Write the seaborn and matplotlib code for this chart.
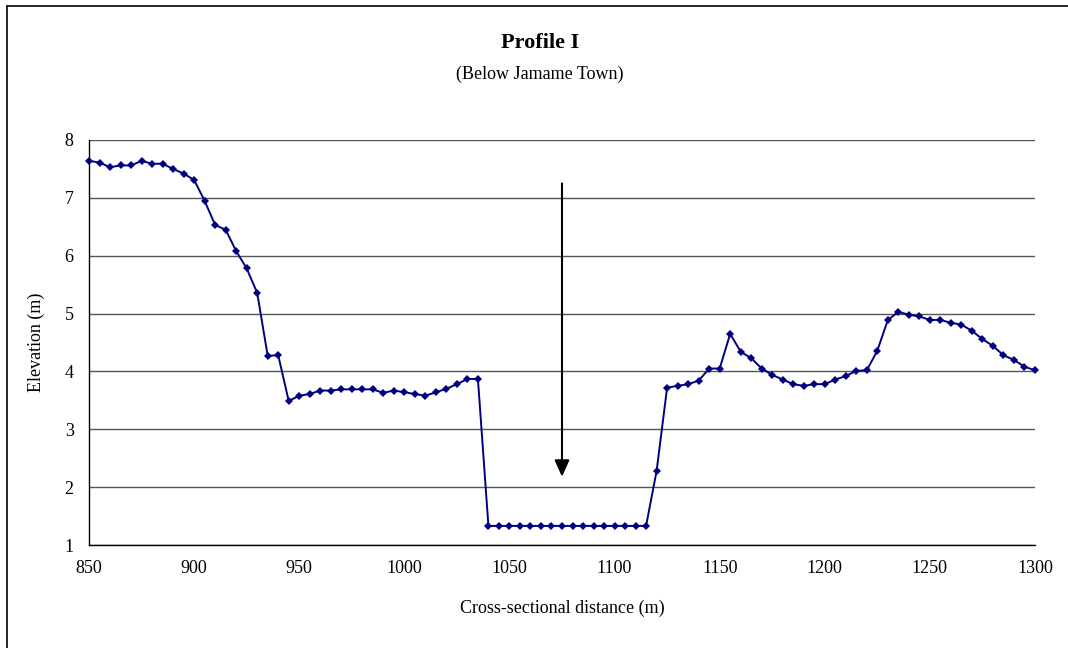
import matplotlib
matplotlib.use("Agg")
import matplotlib.pyplot as plt
import seaborn as sns
import pandas as pd

# Cross-section data
distance = [850, 855, 860, 865, 870, 875, 880, 885, 890, 895,
            900, 905, 910, 915, 920, 925, 930, 935, 940, 945,
            950, 955, 960, 965, 970, 975, 980, 985, 990, 995,
            1000, 1005, 1010, 1015, 1020, 1025, 1030, 1035, 1040, 1045,
            1050, 1055, 1060, 1065, 1070, 1075, 1080, 1085, 1090, 1095,
            1100, 1105, 1110, 1115, 1120, 1125, 1130, 1135, 1140, 1145,
            1150, 1155, 1160, 1165, 1170, 1175, 1180, 1185, 1190, 1195,
            1200, 1205, 1210, 1215, 1220, 1225, 1230, 1235, 1240, 1245,
            1250, 1255, 1260, 1265, 1270, 1275, 1280, 1285, 1290, 1295,
            1300]
elevation = [7.64, 7.61, 7.53, 7.56, 7.56, 7.64, 7.59, 7.59, 7.50, 7.42,
             7.31, 6.95, 6.53, 6.45, 6.08, 5.78, 5.36, 4.27, 4.28, 3.49,
             3.58, 3.61, 3.67, 3.67, 3.69, 3.69, 3.69, 3.69, 3.63, 3.67,
             3.64, 3.61, 3.58, 3.64, 3.70, 3.78, 3.87, 3.87, 1.33, 1.33,
             1.33, 1.33, 1.33, 1.33, 1.33, 1.33, 1.33, 1.33, 1.33, 1.33,
             1.33, 1.33, 1.33, 1.33, 2.28, 3.72, 3.75, 3.78, 3.84, 4.05,
             4.05, 4.65, 4.34, 4.23, 4.05, 3.94, 3.86, 3.78, 3.75, 3.78,
             3.78, 3.86, 3.92, 4.01, 4.02, 4.36, 4.89, 5.03, 4.98, 4.95,
             4.89, 4.89, 4.84, 4.81, 4.70, 4.56, 4.44, 4.28, 4.20, 4.08,
             4.02]

# Arrow marking the channel
arrow_x = 1075
arrow_top = 7.25
arrow_tip = 2.18

x_ticks = [850, 900, 950, 1000, 1050, 1100, 1150, 1200, 1250, 1300]
y_ticks = [1, 2, 3, 4, 5, 6, 7, 8]

df = pd.DataFrame({"distance": distance, "elevation": elevation})

sns.set_style("white")
plt.rcParams["font.family"] = ["Liberation Serif", "DejaVu Serif"]
plt.rcParams["text.color"] = "black"
plt.rcParams["axes.labelcolor"] = "black"
plt.rcParams["xtick.color"] = "black"
plt.rcParams["ytick.color"] = "black"

fig = plt.figure(figsize=(10.68, 6.48), dpi=100)
ax = fig.add_axes([89 / 1068, 1 - 545 / 648, (1035 - 89) / 1068, (545 - 140) / 648])

sns.lineplot(data=df, x="distance", y="elevation", ax=ax, color="#000080",
             linewidth=1.4, marker="D", markersize=4.5, markeredgewidth=0,
             zorder=3, clip_on=False)

ax.annotate("", xy=(arrow_x, arrow_tip), xytext=(arrow_x, arrow_top),
            arrowprops=dict(arrowstyle="-|>,head_width=0.45,head_length=1.0",
                            color="black", lw=1.5, shrinkA=0, shrinkB=0),
            zorder=4)

ax.set_xlim(850, 1300)
ax.set_ylim(1, 8)
ax.set_xticks(x_ticks)
ax.set_yticks(y_ticks)
ax.yaxis.grid(True, color="#555555", linewidth=1.0)
ax.xaxis.grid(False)
ax.set_axisbelow(True)

for side in ["top", "right"]:
    ax.spines[side].set_visible(False)
for side in ["left", "bottom"]:
    ax.spines[side].set_color("black")
    ax.spines[side].set_linewidth(1.0)

ax.tick_params(axis="both", direction="out", length=5, width=1,
               color="black", labelsize=13, pad=6)
ax.set_xlabel("Cross-sectional distance (m)", fontsize=13, labelpad=16)
ax.set_ylabel("Elevation (m)", fontsize=13, labelpad=14)

fig.text(540 / 1068, 1 - 43 / 648, "Profile I", ha="center", va="center",
         fontsize=16, fontweight="bold")
fig.text(540 / 1068, 1 - 74 / 648, "(Below Jamame Town)", ha="center",
         va="center", fontsize=13)

# chart-area border (left and top edges visible in the reference)
fig.add_artist(plt.Line2D([7 / 1068, 7 / 1068], [0, 1 - 6 / 648],
                          transform=fig.transFigure, color="black", lw=1.2))
fig.add_artist(plt.Line2D([7 / 1068, 1], [1 - 6 / 648, 1 - 6 / 648],
                          transform=fig.transFigure, color="black", lw=1.2))

fig.savefig("out.png", dpi=100)
